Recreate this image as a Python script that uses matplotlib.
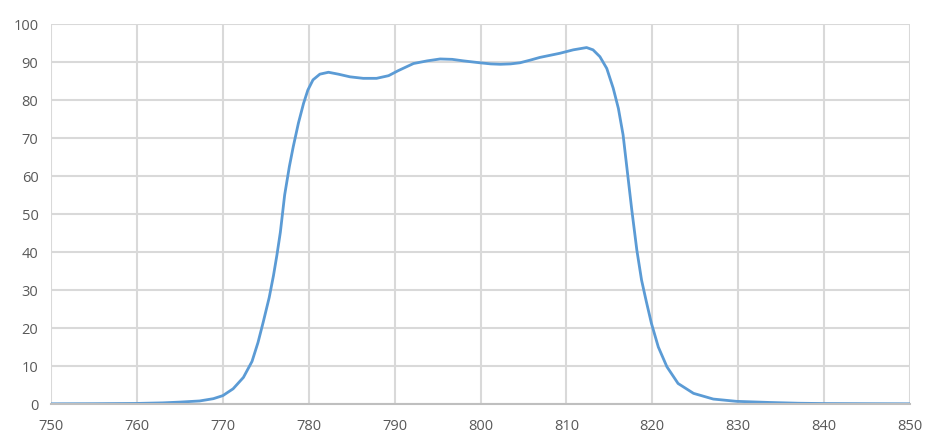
import matplotlib
matplotlib.use("Agg")
import matplotlib.pyplot as plt

wavelength = [750, 755, 760, 763, 765, 767.3, 768.9, 770.0, 771.2, 772.4, 773.4, 774.1, 774.7,
              775.4, 775.9, 776.3, 776.7, 777.2, 777.75, 778.2, 778.8, 779.4, 779.9, 780.5,
              781.3, 782.3, 783.45, 784.8, 786.35, 787.9, 789.3, 790.4, 792.2, 793.8, 795.3,
              796.7, 798.0, 799.9, 801.2, 802.3, 803.5, 804.6, 805.8, 806.9, 808.4, 809.25,
              810.8, 812.35, 813.1, 813.9, 814.7, 815.45, 816.05, 816.6, 817.0, 817.6, 818.2,
              818.75, 819.3, 819.9, 820.7, 821.7, 823.0, 824.8, 827.1, 829.8, 833.7, 837,
              840, 845, 850]
transmittance = [0.05, 0.08, 0.15, 0.3, 0.5, 0.8, 1.4, 2.2, 4.0, 7.0, 11.2, 16.2, 21.5,
                 28.0, 33.8, 39.2, 45.2, 55.0, 62.5, 67.7, 73.9, 79.1, 82.6, 85.3,
                 86.8, 87.3, 86.8, 86.1, 85.7, 85.7, 86.4, 87.7, 89.6, 90.3, 90.8,
                 90.7, 90.3, 89.8, 89.5, 89.4, 89.5, 89.8, 90.5, 91.2, 91.9, 92.3,
                 93.2, 93.8, 93.2, 91.4, 88.3, 83.1, 77.8, 70.8, 63.0, 51.3, 40.5,
                 32.6, 27.0, 21.2, 15.0, 9.8, 5.4, 2.8, 1.3, 0.7, 0.4, 0.2,
                 0.12, 0.08, 0.05]

x_ticks = list(range(750, 851, 10))
y_ticks = list(range(0, 101, 10))

plt.rcParams['font.family'] = ['Open Sans', 'DejaVu Sans']
fig = plt.figure(figsize=(9.29, 4.45), dpi=100)
ax = fig.add_axes([51/929, 1-404/445, (910-51)/929, (404-24)/445])
ax.plot(wavelength, transmittance, color='#5B9BD5', linewidth=2.0,
        solid_joinstyle='round', solid_capstyle='round')
ax.set_xlim(750, 850)
ax.set_ylim(0, 100)
ax.set_xticks(x_ticks)
ax.set_yticks(y_ticks)
ax.grid(True, color='#d9d9d9', linewidth=1.5)
ax.set_axisbelow(True)
for s in ['top', 'right', 'left']:
    ax.spines[s].set_visible(False)
ax.spines['bottom'].set_color('#bfbfbf')
ax.spines['bottom'].set_linewidth(1.5)
ax.tick_params(length=0, labelsize=10.5, colors='#595959')
ax.tick_params(axis='x', pad=11)
ax.tick_params(axis='y', pad=9)
fig.savefig('out.png', dpi=100)
